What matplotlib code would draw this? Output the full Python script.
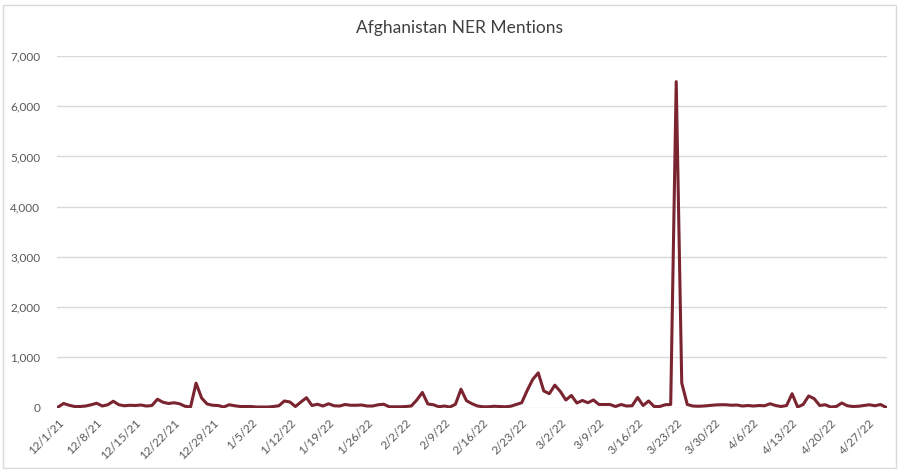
import numpy as np
import pandas as pd
import matplotlib
matplotlib.use("Agg")
from matplotlib import pyplot as plt
from matplotlib.patches import Rectangle
from matplotlib.ticker import FuncFormatter

plt.rcParams['font.family'] = ['Lato', 'DejaVu Sans']

# daily mentions, 12/1/21 .. 4/30/22
dates = pd.date_range("2021-12-01", "2022-04-30", freq="D")
mentions = [
    10, 80, 45, 20, 20, 30, 55, 85, 30, 55,            # 12/1 - 12/10
    125, 55, 35, 45, 40, 50, 30, 40, 165, 105,         # 12/11 - 12/20
    80, 95, 75, 25, 10, 485, 190, 70, 45, 40,          # 12/21 - 12/30
    10, 55, 35, 20, 20, 20, 10, 10, 10, 20,            # 12/31 - 1/9
    35, 130, 110, 20, 110, 195, 40, 65, 30, 75,        # 1/10 - 1/19
    35, 30, 60, 45, 45, 50, 30, 30, 55, 65,            # 1/20 - 1/29
    15, 15, 15, 20, 30, 150, 300, 70, 55, 15,          # 1/30 - 2/8
    30, 10, 65, 365, 135, 75, 30, 15, 15, 25,          # 2/9 - 2/18
    20, 15, 25, 60, 95, 340, 560, 690, 330, 275,       # 2/19 - 2/28
    445, 320, 150, 240, 90, 140, 95, 150, 60, 60,      # 3/1 - 3/10
    60, 20, 60, 30, 35, 200, 40, 130, 20, 20,          # 3/11 - 3/20
    55, 60, 6490, 490, 60, 30, 25, 30, 40, 50,         # 3/21 - 3/30
    55, 55, 45, 50, 30, 40, 30, 40, 35, 75,            # 3/31 - 4/9
    40, 20, 40, 275, 10, 60, 230, 175, 40, 55,         # 4/10 - 4/19
    10, 20, 90, 35, 20, 25, 40, 55, 35, 60,            # 4/20 - 4/29
    5,                                                 # 4/30
]
title = "Afghanistan NER Mentions"
yticks = [0, 1000, 2000, 3000, 4000, 5000, 6000, 7000]

fig = plt.figure(figsize=(8.99, 4.69), dpi=100)
fig.patches.append(Rectangle((0.003, 0.003), 0.994, 0.986, transform=fig.transFigure,
                             fill=False, edgecolor='#D9D9D9', linewidth=1))
ax = fig.add_axes([0.0634, 0.1311, 0.9233, 0.7495])

x = np.arange(len(dates))
ax.plot(x, mentions, color='#7A2430', linewidth=2.2, solid_joinstyle='round')

ax.set_xlim(-0.2, len(dates) - 0.8)
ax.set_ylim(0, 7000)
ax.set_yticks(yticks)
ax.yaxis.set_major_formatter(FuncFormatter(lambda v, p: f"{int(v):,}"))
ax.grid(axis='y', color='#D9D9D9', linewidth=1)
ax.set_axisbelow(True)

tick_idx = x[::7]
ax.set_xticks(tick_idx)
ax.set_xticklabels([f"{d.month}/{d.day}/{d.year % 100}" for d in dates[::7]],
                   rotation=45, ha='right', va='top', rotation_mode='anchor')

for s in ax.spines.values():
    s.set_visible(False)
ax.tick_params(axis='both', length=0, labelsize=8.5, labelcolor='#595959')
ax.tick_params(axis='y', pad=12)
ax.tick_params(axis='x', pad=7)

fig.text(0.511, 0.94, title, ha='center', va='center', fontsize=12.5, color='#404040')

fig.savefig("out.png", dpi=100)
